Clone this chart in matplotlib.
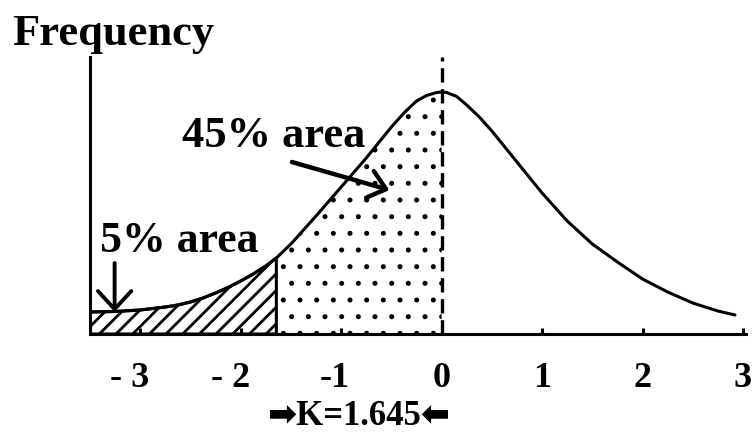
import numpy as np
import matplotlib
matplotlib.use("Agg")
import matplotlib.pyplot as plt
from matplotlib.transforms import offset_copy

# Skewed frequency curve (x in standard units, y in relative frequency)
curve_x = [-3.5, -3.25, -3.0, -2.875, -2.75, -2.625, -2.5, -2.375, -2.25,
           -2.125, -2.0, -1.875, -1.75, -1.645, -1.5, -1.25, -1.0, -0.75,
           -0.5, -0.375, -0.25, -0.15, -0.05, 0.0, 0.05, 0.15, 0.25, 0.375,
           0.5, 0.75, 1.0, 1.25, 1.5, 1.75, 2.0, 2.25, 2.5, 2.75, 2.92]
curve_y = [0.22, 0.225, 0.24, 0.255, 0.27, 0.29, 0.32, 0.36, 0.41,
           0.465, 0.53, 0.60, 0.68, 0.76, 0.90, 1.18, 1.47, 1.76,
           2.07, 2.21, 2.33, 2.385, 2.415, 2.42, 2.415, 2.375, 2.29, 2.17,
           2.03, 1.72, 1.41, 1.13, 0.90, 0.72, 0.55, 0.42, 0.31, 0.23, 0.19]

K = 1.645
tick_values = [-3, -2, -1, 0, 1, 2, 3]
tick_labels = ["- 3", "- 2", "-1", "0", "1", "2", "3"]
tail_label = "5% area"
body_label = "45% area"

SERIF = ["Liberation Serif", "DejaVu Serif"]
W, H, DPI = 753, 434, 100

fig = plt.figure(figsize=(W / DPI, H / DPI), dpi=DPI)
ax = fig.add_axes([90 / W, 100 / H, 656 / W, 277 / H])
ax.set_xlim(-3.5, 3.03)
ax.set_ylim(0, 2.77)

x = np.array(curve_x)
y = np.array(curve_y)

# 5% tail, hatched
tail = x <= -K + 1e-9
plt.rcParams["hatch.linewidth"] = 2.0
ax.fill_between(x[tail], 0, y[tail], facecolor="none", edgecolor="black",
                hatch="//", linewidth=2.2, zorder=2)

# 45% region, stippled
body = (x >= -K - 1e-9) & (x <= 1e-9)
dots = ax.fill_between(x[body], 0, y[body], facecolor="none", edgecolor="black",
                       hatch=".", linewidth=0, zorder=1)
if hasattr(dots, "set_hatch_linewidth"):
    dots.set_hatch_linewidth(1.2)

# curve
ax.plot(x, y, color="black", lw=2.2, solid_joinstyle="round",
        solid_capstyle="round", zorder=3)

# mean line
ax.plot([0, 0], [0, 2.77], color="black", lw=2.4, dashes=(4.3, 2.0),
        zorder=3, clip_on=False)

# axes frame
for side in ("top", "right"):
    ax.spines[side].set_visible(False)
for side in ("left", "bottom"):
    ax.spines[side].set_linewidth(2.2)
ax.set_yticks([])
ax.set_xticks(tick_values)
ax.tick_params(axis="x", direction="in", length=4.5, width=2.2,
               labelbottom=False)

# tick labels, digit centred on the tick
lbl_size = 26
for v, s in zip(tick_values, tick_labels):
    if v < 0:
        tr = offset_copy(ax.transData, fig=fig, x=0.25 * lbl_size * DPI / 72,
                         y=0, units="dots")
        ha = "right"
    else:
        tr = ax.transData
        ha = "center"
    ax.text(v, -0.53, s, transform=tr, ha=ha, va="baseline",
            fontsize=lbl_size, fontweight="bold", family=SERIF, clip_on=False)

# annotations
ax.text(-3.40, 0.82, tail_label, fontsize=31.5, fontweight="bold",
        family=SERIF, ha="left", va="baseline")
ax.text(-2.58, 1.87, body_label, fontsize=32, fontweight="bold",
        family=SERIF, ha="left", va="baseline")

ax.annotate("", xy=(-3.255, 0.22), xytext=(-3.255, 0.71),
            arrowprops=dict(arrowstyle="->,head_length=13,head_width=12",
                            mutation_scale=1, lw=2.8, color="black",
                            shrinkA=0, shrinkB=0), zorder=4)
ax.annotate("", xy=(-0.52, 1.44), xytext=(-1.49, 1.72),
            arrowprops=dict(arrowstyle="->,head_length=12,head_width=10",
                            mutation_scale=1, lw=3.2, color="black",
                            shrinkA=0, shrinkB=0), zorder=4)

fig.text(12 / W, 1 - 45 / H, "Frequency", fontsize=32, fontweight="bold",
         family=SERIF, ha="left", va="baseline")
fig.text(359 / W, 9 / H, f"\u27a1K={K}\u2b05", fontsize=25, fontweight="bold",
         family=["Liberation Serif", "DejaVu Sans"], ha="center",
         va="baseline")

fig.savefig("out.png", dpi=DPI)
